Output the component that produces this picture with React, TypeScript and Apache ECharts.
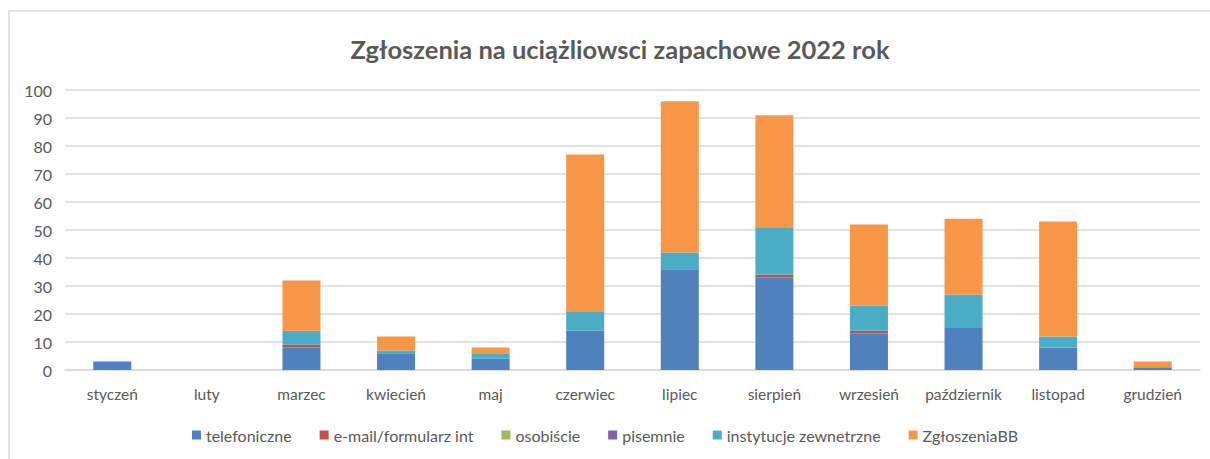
import React, { useEffect, useRef } from "react";
import * as echarts from "echarts";

const months = ["styczeń", "luty", "marzec", "kwiecień", "maj", "czerwiec", "lipiec", "sierpień", "wrzesień", "październik", "listopad", "grudzień"];
const telefoniczne = [3, 0, 8, 6, 4, 14, 36, 33, 13, 15, 8, 1];
const emailFormularz = [0, 0, 1, 0, 0, 0, 0, 1, 1, 0, 0, 0];
const osobiscie = [0, 0, 0, 0, 0, 0, 0, 0, 0, 0, 0, 0];
const pisemnie = [0, 0, 0, 0, 0, 0, 0, 0, 0, 0, 0, 0];
const instytucje = [0, 0, 5, 1, 2, 7, 6, 17, 9, 12, 4, 0];
const zgloszeniaBB = [0, 0, 18, 5, 2, 56, 54, 40, 29, 27, 41, 2];
const yTicks = { min: 0, max: 100, interval: 10 };

const seriesDefs = [
  { name: "telefoniczne", data: telefoniczne, color: "#4F81BD" },
  { name: "e-mail/formularz int", data: emailFormularz, color: "#C0504D" },
  { name: "osobiście", data: osobiscie, color: "#9BBB59" },
  { name: "pisemnie", data: pisemnie, color: "#8064A2" },
  { name: "instytucje zewnetrzne", data: instytucje, color: "#4BACC6" },
  { name: "ZgłoszeniaBB", data: zgloszeniaBB, color: "#F79646" },
];

const FONT = "Lato, 'Open Sans', sans-serif";

export default function App() {
  const ref = useRef<HTMLDivElement>(null);
  useEffect(() => {
    if (!ref.current) return;
    const chart = echarts.init(ref.current, null, { renderer: "svg" });
    chart.setOption({
      animation: false,
      backgroundColor: "#ffffff",
      title: {
        text: "Zgłoszenia na uciążliowsci zapachowe 2022 rok",
        left: 615,
        textAlign: "center",
        top: 31,
        textStyle: { fontFamily: FONT, fontSize: 25.5, fontWeight: "bold", color: "#595959" },
      },
      graphic: [
        {
          type: "rect",
          shape: { x: 9, y: 11, width: 1215, height: 470 },
          style: { fill: "none", stroke: "#d9d9d9", lineWidth: 1.5 },
          silent: true,
        },
      ],
      legend: {
        bottom: 11,
        left: "center",
        itemWidth: 9,
        itemHeight: 9,
        itemGap: 28,
        icon: "rect",
        textStyle: { fontFamily: FONT, fontSize: 16, color: "#595959" },
        data: seriesDefs.map((s) => s.name),
      },
      grid: { left: 65, right: 10, top: 90, bottom: 89, containLabel: false },
      xAxis: {
        type: "category",
        data: months,
        axisLine: { lineStyle: { color: "#d9d9d9", width: 1.5 } },
        axisTick: { show: false },
        axisLabel: { fontFamily: FONT, fontSize: 15.5, color: "#595959", margin: 16, interval: 0 },
      },
      yAxis: {
        type: "value",
        min: yTicks.min,
        max: yTicks.max,
        interval: yTicks.interval,
        axisLine: { show: false },
        axisTick: { show: false },
        axisLabel: { fontFamily: FONT, fontSize: 16, color: "#595959", margin: 13 },
        splitLine: { lineStyle: { color: "#d9d9d9", width: 1.5 } },
      },
      series: seriesDefs.map((s) => ({
        name: s.name,
        type: "bar",
        stack: "total",
        data: s.data,
        barWidth: 38,
        itemStyle: { color: s.color },
      })),
    });
    return () => chart.dispose();
  }, []);
  return <div ref={ref} style={{ position: "absolute", left: 0, top: 0, width: 1210, height: 459 }} />;
}
